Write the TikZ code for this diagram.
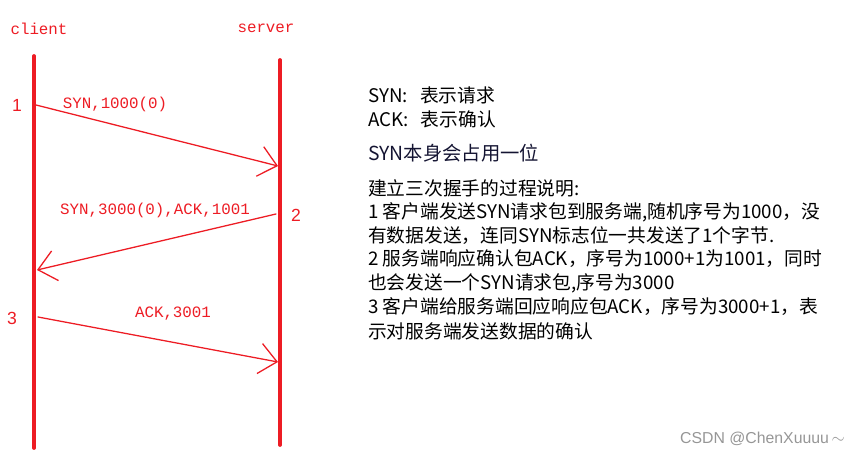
\documentclass[tikz,border=0pt]{standalone}
\usepackage{fontspec}
\setmainfont{Liberation Serif}
\newfontfamily\cjkfont{Noto Sans CJK SC}
\newfontfamily\monofont{Liberation Mono}
\newfontfamily\numfont{Liberation Sans}
\usetikzlibrary{arrows.meta,calc}
\definecolor{linered}{RGB}{237,28,36}
\definecolor{markgray}{RGB}{150,150,150}
\tikzset{
	life/.style={draw=linered, line width=3.2pt},
	msg/.style={draw=linered, line width=1.1pt, -{Straight Barb[length=15pt,width=26pt]}},
	lbl/.style={text=linered, font=\monofont\fontsize{13.5}{14}\selectfont, inner sep=0pt},
	num/.style={text=linered, font=\numfont\fontsize{15}{16}\selectfont, inner sep=0pt},
	note/.style={anchor=west, inner sep=0pt, font=\cjkfont\fontsize{16}{18}\selectfont},
}
\begin{document}
\begin{tikzpicture}[x=0.03cm, y=-0.03cm, line join=round, line cap=round]
			\useasboundingbox (0,0) rectangle (864,455);
			% lifelines
			\foreach \x\y\t in {34/56/c1,34/448/c2,280/60/s1,280/445/s2}
			\coordinate (\t) at (\x,\y);
			\draw[life] (c1)--(c2);
			\draw[life] (s1)--(s2);
			\node[lbl] (client) at (39,29) {client};
			\node[lbl] (server) at (266,28) {server};
			% messages
			\foreach \x\y\t in {36/105/m1a,278/166/m1b,276/214/m2a,37/270/m2b,38/317/m3a,278/362/m3b}
			\coordinate (\t) at (\x,\y);
			\draw[msg] (m1a)--(m1b);
			\draw[msg] (m2a)--(m2b);
			\draw[msg] (m3a)--(m3b);
			\node[lbl] (syn1) at (115,104) {SYN,1000(0)};
			\node[lbl] (syn2) at (155,210) {SYN,3000(0),ACK,1001};
			\node[lbl] (ack3) at (173,314) {ACK,3001};
			\foreach \t/\x/\y in {1/17/105,2/296/215,3/12/318}
			\node[num] (step\t) at (\x,\y) {\t};
			% notes
			\node[note] (n1) at (368,95) {SYN:\hspace{0.65em}表示请求};
			\node[note] (n2) at (368,119) {ACK:\hspace{0.65em}表示确认};
			\node[note, font=\cjkfont\fontsize{16.5}{18}\selectfont, text={rgb,255:red,20;green,20;blue,50}] (n3) at (368,153) {SYN本身会占用一位};
			\node[note] (n4) at (368,188) {建立三次握手的过程说明:};
			\node[note] (n5) at (368,212) {1 客户端发送SYN请求包到服务端,随机序号为1000，没};
			\node[note] (n6) at (368,236) {有数据发送，连同SYN标志位一共发送了1个字节.};
			\node[note] (n7) at (368,259) {2 服务端响应确认包ACK，序号为1000+1为1001，同时};
			\node[note] (n8) at (368,283) {也会发送一个SYN请求包,序号为3000};
			\node[note] (n9) at (368,307) {3 客户端给服务端回应响应包ACK，序号为3000+1，表};
			\node[note] (n10) at (368,331) {示对服务端发送数据的确认};
			\node[anchor=east, inner sep=0pt, text=markgray, font=\numfont\fontsize{13.5}{14}\selectfont] (mark) at (845,439) {CSDN @ChenXuuuu\,$\sim$};
		\end{tikzpicture}
\end{document}
